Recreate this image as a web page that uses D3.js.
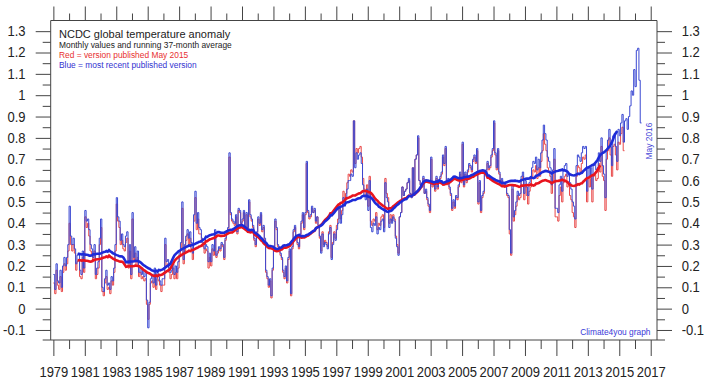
<!DOCTYPE html>
<html>
<head>
<meta charset="utf-8">
<script src="https://cdn.jsdelivr.net/npm/d3@7"></script>
<style>
  body { margin: 0; background: #fff; }
  svg { display: block; font-family: "Liberation Sans", Arial, sans-serif; }
</style>
</head>
<body>
<div id="chart_div"></div>
<script>
// NCDC monthly global temperature anomaly, Jan 1979 onwards
var startYear = 1979;

// most recent published version (through May 2016)
var blueMonthly = [
  0.16, 0.09, 0.21, 0.13, 0.12, 0.18, 0.10, 0.20, 0.24, 0.20, 0.24, 0.30,
  0.48, 0.34, 0.30, 0.33, 0.28, 0.21, 0.25, 0.26, 0.18, 0.16, 0.27, 0.19,
  0.46, 0.41, 0.42, 0.37, 0.30, 0.28, 0.24, 0.30, 0.16, 0.19, 0.22, 0.33,
  0.42, 0.10, 0.08, 0.14, 0.18, 0.11, 0.12, 0.09, 0.15, 0.13, 0.19, 0.30,
  0.52, 0.43, 0.41, 0.32, 0.35, 0.30, 0.29, 0.34, 0.36, 0.21, 0.30, 0.16,
  0.45, 0.24, 0.29, 0.22, 0.27, 0.17, 0.19, 0.16, 0.18, 0.15, 0.17, 0.04,
  -0.09, 0.03, 0.14, 0.16, 0.12, 0.19, 0.11, 0.17, 0.15, 0.13, 0.11, 0.14,
  0.14, 0.33, 0.22, 0.23, 0.19, 0.17, 0.18, 0.21, 0.16, 0.20, 0.17, 0.22,
  0.27, 0.31, 0.50, 0.23, 0.30, 0.34, 0.37, 0.33, 0.36, 0.31, 0.26, 0.44,
  0.55, 0.40, 0.45, 0.38, 0.37, 0.33, 0.31, 0.28, 0.30, 0.29, 0.22, 0.26,
  0.22, 0.30, 0.27, 0.37, 0.25, 0.27, 0.29, 0.28, 0.31, 0.30, 0.24, 0.33,
  0.36, 0.38, 0.73, 0.45, 0.42, 0.41, 0.40, 0.44, 0.36, 0.47, 0.46, 0.40,
  0.42, 0.46, 0.38, 0.45, 0.38, 0.51, 0.44, 0.42, 0.39, 0.33, 0.30, 0.36,
  0.43, 0.40, 0.45, 0.37, 0.39, 0.33, 0.18, 0.15, 0.11, 0.14, 0.06, 0.19,
  0.28, 0.42, 0.38, 0.30, 0.29, 0.26, 0.24, 0.18, 0.15, 0.20, 0.13, 0.24,
  0.28, 0.07, 0.29, 0.37, 0.39, 0.34, 0.31, 0.29, 0.35, 0.41, 0.45, 0.38,
  0.45, 0.69, 0.46, 0.43, 0.44, 0.48, 0.45, 0.47, 0.41, 0.43, 0.39, 0.34,
  0.26, 0.35, 0.29, 0.31, 0.30, 0.28, 0.35, 0.38, 0.23, 0.30, 0.35, 0.32,
  0.37, 0.40, 0.47, 0.40, 0.44, 0.52, 0.48, 0.51, 0.56, 0.60, 0.60, 0.63,
  0.62, 0.88, 0.66, 0.73, 0.70, 0.72, 0.73, 0.68, 0.58, 0.53, 0.51, 0.56,
  0.46, 0.60, 0.38, 0.36, 0.40, 0.39, 0.43, 0.35, 0.38, 0.37, 0.41, 0.42,
  0.36, 0.59, 0.52, 0.50, 0.38, 0.42, 0.40, 0.43, 0.41, 0.33, 0.29, 0.25,
  0.43, 0.45, 0.57, 0.53, 0.55, 0.56, 0.59, 0.61, 0.54, 0.52, 0.66, 0.53,
  0.70, 0.72, 0.81, 0.60, 0.58, 0.57, 0.62, 0.54, 0.56, 0.52, 0.49, 0.46,
  0.71, 0.58, 0.59, 0.56, 0.62, 0.57, 0.60, 0.62, 0.64, 0.72, 0.68, 0.76,
  0.59, 0.61, 0.57, 0.54, 0.47, 0.51, 0.48, 0.53, 0.52, 0.58, 0.64, 0.60,
  0.78, 0.58, 0.64, 0.60, 0.65, 0.68, 0.67, 0.65, 0.70, 0.72, 0.69, 0.75,
  0.50, 0.60, 0.46, 0.53, 0.55, 0.64, 0.65, 0.69, 0.66, 0.67, 0.72, 0.75,
  0.88, 0.73, 0.66, 0.75, 0.64, 0.60, 0.61, 0.59, 0.59, 0.58, 0.54, 0.53,
  0.37, 0.26, 0.58, 0.43, 0.46, 0.50, 0.55, 0.53, 0.54, 0.62, 0.64, 0.54,
  0.60, 0.57, 0.53, 0.59, 0.61, 0.66, 0.69, 0.68, 0.71, 0.65, 0.70, 0.66,
  0.73, 0.79, 0.86, 0.82, 0.79, 0.71, 0.69, 0.66, 0.58, 0.65, 0.75, 0.47,
  0.47, 0.45, 0.58, 0.62, 0.55, 0.65, 0.67, 0.68, 0.62, 0.63, 0.59, 0.56,
  0.50, 0.48, 0.42, 0.67, 0.72, 0.71, 0.69, 0.73, 0.76, 0.75, 0.76, 0.55,
  0.66, 0.62, 0.66, 0.56, 0.67, 0.68, 0.65, 0.66, 0.73, 0.69, 0.80, 0.67,
  0.63, 0.52, 0.74, 0.79, 0.84, 0.76, 0.67, 0.81, 0.82, 0.76, 0.69, 0.84,
  0.81, 0.87, 0.91, 0.78, 0.88, 0.89, 0.84, 0.90, 0.95, 1.02, 1.00, 1.12,
  1.04, 1.21, 1.22, 1.07, 0.87
];

// version published May 2015 (through April 2015)
var redMonthly = [
  0.12, 0.07, 0.18, 0.11, 0.09, 0.15, 0.08, 0.17, 0.21, 0.18, 0.21, 0.27,
  0.40, 0.30, 0.27, 0.30, 0.26, 0.18, 0.22, 0.23, 0.15, 0.14, 0.24, 0.17,
  0.43, 0.38, 0.40, 0.34, 0.27, 0.25, 0.22, 0.27, 0.14, 0.16, 0.19, 0.30,
  0.38, 0.08, 0.06, 0.12, 0.15, 0.09, 0.10, 0.07, 0.13, 0.11, 0.17, 0.27,
  0.49, 0.41, 0.38, 0.30, 0.32, 0.28, 0.27, 0.31, 0.33, 0.19, 0.27, 0.14,
  0.42, 0.22, 0.26, 0.20, 0.24, 0.15, 0.17, 0.14, 0.15, 0.13, 0.14, 0.02,
  -0.05, 0.02, 0.12, 0.13, 0.10, 0.16, 0.09, 0.14, 0.13, 0.11, 0.08, 0.11,
  0.11, 0.30, 0.20, 0.21, 0.17, 0.14, 0.16, 0.19, 0.14, 0.17, 0.14, 0.19,
  0.25, 0.28, 0.47, 0.21, 0.27, 0.32, 0.35, 0.30, 0.33, 0.28, 0.23, 0.41,
  0.52, 0.37, 0.42, 0.35, 0.35, 0.31, 0.29, 0.26, 0.28, 0.27, 0.19, 0.24,
  0.20, 0.28, 0.25, 0.35, 0.24, 0.26, 0.28, 0.27, 0.30, 0.29, 0.23, 0.32,
  0.35, 0.37, 0.71, 0.44, 0.41, 0.40, 0.39, 0.43, 0.35, 0.46, 0.45, 0.39,
  0.41, 0.45, 0.37, 0.44, 0.37, 0.50, 0.43, 0.41, 0.38, 0.32, 0.29, 0.35,
  0.42, 0.39, 0.44, 0.36, 0.38, 0.32, 0.17, 0.14, 0.10, 0.13, 0.05, 0.18,
  0.27, 0.41, 0.37, 0.29, 0.28, 0.25, 0.23, 0.17, 0.14, 0.19, 0.12, 0.23,
  0.27, 0.06, 0.28, 0.36, 0.38, 0.33, 0.30, 0.28, 0.34, 0.40, 0.44, 0.37,
  0.44, 0.68, 0.45, 0.42, 0.43, 0.47, 0.45, 0.46, 0.40, 0.43, 0.38, 0.33,
  0.27, 0.36, 0.30, 0.32, 0.31, 0.29, 0.36, 0.39, 0.24, 0.31, 0.36, 0.33,
  0.39, 0.42, 0.49, 0.42, 0.46, 0.55, 0.50, 0.54, 0.59, 0.63, 0.62, 0.65,
  0.64, 0.88, 0.68, 0.75, 0.73, 0.75, 0.76, 0.71, 0.61, 0.56, 0.53, 0.58,
  0.48, 0.62, 0.41, 0.39, 0.42, 0.41, 0.45, 0.37, 0.40, 0.39, 0.43, 0.44,
  0.38, 0.61, 0.54, 0.52, 0.40, 0.44, 0.41, 0.44, 0.42, 0.34, 0.30, 0.26,
  0.43, 0.45, 0.57, 0.53, 0.55, 0.56, 0.59, 0.60, 0.54, 0.52, 0.66, 0.53,
  0.70, 0.72, 0.80, 0.60, 0.58, 0.57, 0.61, 0.54, 0.55, 0.51, 0.48, 0.45,
  0.70, 0.57, 0.58, 0.55, 0.61, 0.56, 0.59, 0.61, 0.63, 0.71, 0.67, 0.75,
  0.58, 0.60, 0.56, 0.53, 0.46, 0.50, 0.47, 0.52, 0.51, 0.57, 0.63, 0.59,
  0.77, 0.57, 0.63, 0.59, 0.64, 0.67, 0.66, 0.64, 0.69, 0.71, 0.68, 0.74,
  0.49, 0.59, 0.45, 0.52, 0.54, 0.63, 0.64, 0.68, 0.65, 0.66, 0.71, 0.74,
  0.87, 0.72, 0.65, 0.74, 0.63, 0.59, 0.60, 0.58, 0.58, 0.57, 0.53, 0.52,
  0.35, 0.25, 0.56, 0.41, 0.44, 0.48, 0.53, 0.51, 0.52, 0.60, 0.62, 0.51,
  0.57, 0.53, 0.49, 0.55, 0.57, 0.62, 0.65, 0.64, 0.67, 0.61, 0.66, 0.62,
  0.69, 0.74, 0.82, 0.77, 0.74, 0.66, 0.64, 0.62, 0.54, 0.60, 0.70, 0.43,
  0.43, 0.41, 0.53, 0.57, 0.50, 0.59, 0.62, 0.63, 0.57, 0.58, 0.53, 0.51,
  0.45, 0.43, 0.38, 0.62, 0.67, 0.66, 0.64, 0.68, 0.71, 0.70, 0.72, 0.50,
  0.61, 0.57, 0.61, 0.50, 0.62, 0.63, 0.60, 0.61, 0.68, 0.64, 0.76, 0.62,
  0.60, 0.46, 0.70, 0.74, 0.80, 0.72, 0.62, 0.76, 0.77, 0.72, 0.65, 0.78,
  0.77, 0.82, 0.85, 0.74
];

var avgWindow = 37;
var yTickValues = [-0.1, 0, 0.1, 0.2, 0.3, 0.4, 0.5, 0.6, 0.7, 0.8, 0.9, 1, 1.1, 1.2, 1.3];
var xTickYears = [1979, 1981, 1983, 1985, 1987, 1989, 1991, 1993, 1995, 1997, 1999,
  2001, 2003, 2005, 2007, 2009, 2011, 2013, 2015, 2017];

var chart = {
    width: 706,
    height: 389,
    left: 50.7,
    right: 657,
    top: 20.5,
    bottom: 340,
    squeeze: 0.93,
    svg: 0,
    x: 0,
    y: 0,
    initialize: function() {
        var self = this;
        self.svg = d3.select("#chart_div").append("svg")
            .attr("width", self.width)
            .attr("height", self.height);
        self.x = d3.scaleLinear().domain([1978.83, 2017.4]).range([self.left, self.right]);
        self.y = d3.scaleLinear().domain([-0.147, 1.35]).range([self.bottom, self.top]);
    },
    monthly_points: function(values) {
        var pts = values.map(function(v, i) {
            return { t: startYear + i / 12, v: v };
        });
        pts.push({ t: startYear + values.length / 12, v: values[values.length - 1] });
        return pts;
    },
    running_mean: function(values, w) {
        var h = (w - 1) / 2, out = [];
        for (var i = h; i < values.length - h; i++) {
            out.push({ t: startYear + i / 12 + 1 / 24, v: d3.mean(values.slice(i - h, i + h + 1)) });
        }
        return out;
    },
    draw_axes: function() {
        var self = this;
        var g = self.svg.append("g").attr("class", "axes");
        var minorY = [];
        for (var k = 0; k < yTickValues.length - 1; k++) minorY.push((yTickValues[k] + yTickValues[k + 1]) / 2);
        var minorX = xTickYears.slice(0, -1).map(function(d) { return d + 1; });
        var fmt = function(d) { return String(+d.toFixed(2)); };

        var axes = [
            { a: d3.axisLeft(self.y).tickValues(minorY).tickSize(8).tickFormat(""), tr: "translate(" + self.left + ",0)" },
            { a: d3.axisLeft(self.y).tickValues(yTickValues).tickSize(15).tickFormat(fmt), tr: "translate(" + self.left + ",0)", tx: -25.2 },
            { a: d3.axisRight(self.y).tickValues(minorY).tickSize(8).tickFormat(""), tr: "translate(" + self.right + ",0)" },
            { a: d3.axisRight(self.y).tickValues(yTickValues).tickSize(15).tickFormat(fmt), tr: "translate(" + self.right + ",0)", tx: 24.7 },
            { a: d3.axisBottom(self.x).tickValues(minorX).tickSize(9).tickFormat(""), tr: "translate(0," + self.bottom + ")" },
            { a: d3.axisBottom(self.x).tickValues(xTickYears).tickSize(16).tickPadding(11).tickFormat(d3.format("d")), tr: "translate(0," + self.bottom + ")", tx: 0 },
            { a: d3.axisTop(self.x).tickValues(minorX).tickSize(7).tickFormat(""), tr: "translate(0," + self.top + ")" },
            { a: d3.axisTop(self.x).tickValues(xTickYears).tickSize(14).tickFormat(""), tr: "translate(0," + self.top + ")" }
        ];
        axes.forEach(function(d) {
            var ax = g.append("g").attr("transform", d.tr).call(d.a);
            ax.select(".domain").remove();
            ax.selectAll("line").attr("stroke", "#444").attr("stroke-width", 1);
            ax.selectAll("text").attr("fill", "#222").style("font-size", "14px")
                .style("font-family", "'Liberation Sans', Arial, sans-serif");
            if (d.tx !== undefined) {
                // labels in the original are slightly condensed
                ax.selectAll("text")
                    .attr("x", d.tx / self.squeeze)
                    .attr("transform", "scale(" + self.squeeze + ",1)");
            }
        });

        // frame
        g.append("line").attr("x1", self.left).attr("x2", self.right).attr("y1", self.top).attr("y2", self.top)
            .attr("stroke", "#444");
        g.append("line").attr("x1", self.left - 8).attr("x2", self.right + 8).attr("y1", self.bottom).attr("y2", self.bottom)
            .attr("stroke", "#444");
        g.append("line").attr("x1", self.left).attr("x2", self.left).attr("y1", self.top).attr("y2", self.bottom)
            .attr("stroke", "#444");
        g.append("line").attr("x1", self.right).attr("x2", self.right).attr("y1", self.top).attr("y2", self.bottom)
            .attr("stroke", "#444");
    },
    main_draw: function() {
        var self = this;
        var stepLine = d3.line()
            .x(function(d) { return self.x(d.t); })
            .y(function(d) { return self.y(d.v); })
            .curve(d3.curveStepAfter);
        var avgLine = d3.line()
            .x(function(d) { return self.x(d.t); })
            .y(function(d) { return self.y(d.v); });

        var plot = self.svg.append("g").attr("class", "plot");
        plot.append("path").datum(self.monthly_points(redMonthly))
            .attr("d", stepLine).attr("fill", "none")
            .attr("stroke", "#e84848").attr("stroke-width", 1);
        plot.append("path").datum(self.monthly_points(blueMonthly))
            .attr("d", stepLine).attr("fill", "none")
            .attr("stroke", "#3a48d2").attr("stroke-width", 1);
        plot.append("path").datum(self.running_mean(redMonthly, avgWindow))
            .attr("d", avgLine).attr("fill", "none")
            .attr("stroke", "#e8141e").attr("stroke-width", 2.6);
        plot.append("path").datum(self.running_mean(blueMonthly, avgWindow))
            .attr("d", avgLine).attr("fill", "none")
            .attr("stroke", "#1d2bd8").attr("stroke-width", 2.6);
    },
    draw_text: function() {
        var self = this;
        var t = self.svg.append("g").attr("class", "labels");
        t.append("text").attr("x", 59).attr("y", 38.3).attr("fill", "#222")
            .style("font-size", "11px").text("NCDC global temperature anomaly");
        t.append("text").attr("x", 59).attr("y", 48.3).attr("fill", "#222")
            .style("font-size", "8.4px").text("Monthly values and running 37-month average");
        t.append("text").attr("x", 59).attr("y", 58).attr("fill", "#e83030")
            .style("font-size", "8.4px").text("Red = version published May 2015");
        t.append("text").attr("x", 59).attr("y", 68).attr("fill", "#3333d0")
            .style("font-size", "8.4px").text("Blue = most recent published version");
        t.append("text").attr("x", 650.5).attr("y", 335).attr("text-anchor", "end").attr("fill", "#3a3ad8")
            .style("font-size", "8.4px").text("Climate4you graph");
        t.append("text").attr("transform", "translate(651.5,141) rotate(-90)")
            .attr("text-anchor", "middle").attr("fill", "#4444d8")
            .style("font-size", "8.4px").text("May 2016");
    }
};

chart.initialize();
chart.draw_axes();
chart.main_draw();
chart.draw_text();
</script>
</body>
</html>
